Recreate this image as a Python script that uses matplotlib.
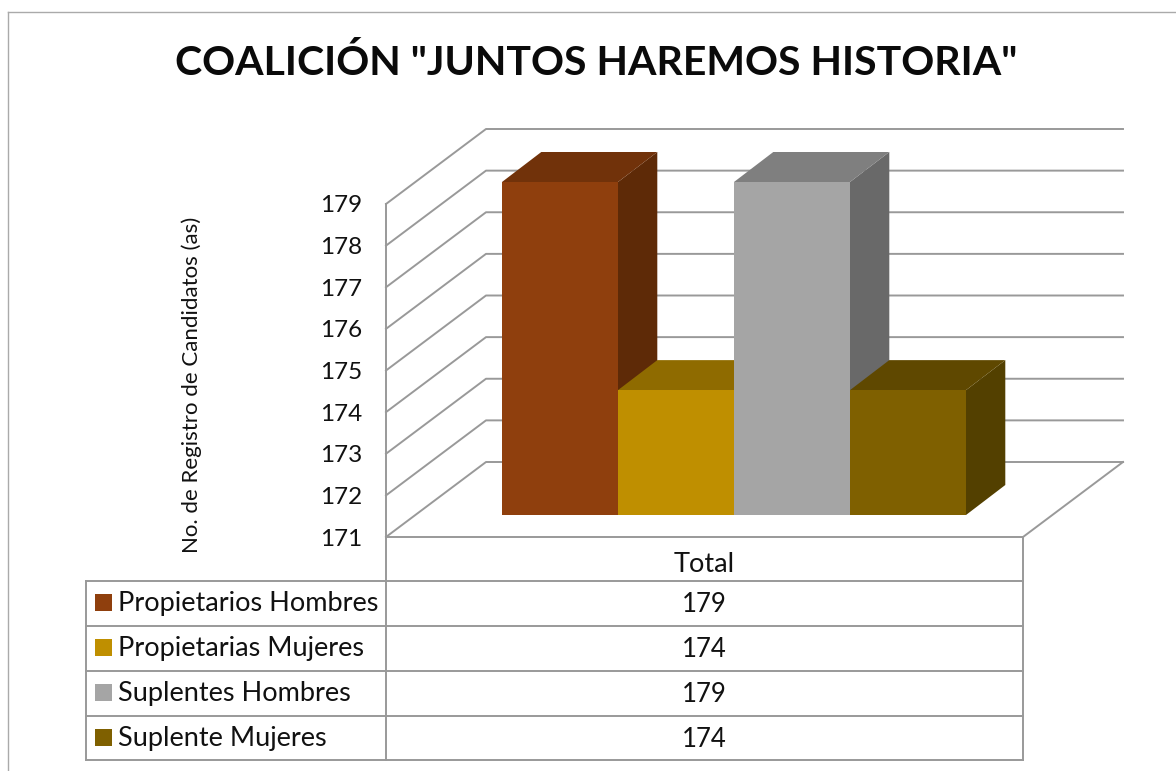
import matplotlib
matplotlib.use("Agg")
import matplotlib.pyplot as plt
from matplotlib.patches import Polygon, Rectangle
from matplotlib.transforms import IdentityTransform

plt.rcParams['font.family'] = ['Lato', 'DejaVu Sans']

title = 'COALICIÓN "JUNTOS HAREMOS HISTORIA"'
ylabel = 'No. de Registro de Candidatos (as)'
category = 'Total'
series = ['Propietarios Hombres', 'Propietarias Mujeres', 'Suplentes Hombres', 'Suplente Mujeres']
values = [179, 174, 179, 174]
yticks = [171, 172, 173, 174, 175, 176, 177, 178, 179]

front = ['#8F3F0D', '#BF8F00', '#A5A5A5', '#7F6000']
top = ['#71320A', '#8F6B00', '#7F7F7F', '#5F4800']
side = ['#5E2A07', '#705500', '#696969', '#534000']
GRID = '#999999'
TXT = '#111111'

W, H = 1176, 771
fig = plt.figure(figsize=(W / 100, H / 100), dpi=100, facecolor='white')

# overlay in pixel space for frame and data table
ov = fig.add_axes([0, 0, 1, 1], zorder=0)
ov.set_xlim(0, W); ov.set_ylim(H, 0); ov.axis('off')

# plot axes: the front plane of the 3D box
L, R, T, B = 386, 1023, 204, 537
ax = fig.add_axes([L / W, 1 - B / H, (R - L) / W, (B - T) / H], zorder=1)
ax.patch.set_alpha(0)
ax.set_xlim(0, 1)
ax.set_ylim(yticks[0], yticks[-1])
for s in ax.spines.values():
    s.set_visible(False)
ax.set_xticks([])
ax.set_yticks(yticks)
ax.tick_params(axis='y', length=0, pad=17)
ax.set_yticklabels([str(t) for t in yticks], fontsize=17.5, color=TXT)

BACK = (100, 75)          # floor depth in pixels
NEAR = (29.5, 22)         # bar front offset from the front plane
BAR_DEPTH = (39.3, 30)    # bar depth
BAR_W = 116 / (R - L)
identity = IdentityTransform()


def pt(x, v, d=(0, 0)):
    p = ax.transData.transform((x, v))
    return (p[0] + d[0], p[1] + d[1])


def add(d, *a):
    r = d
    for b in a:
        r = (r[0] + b[0], r[1] + b[1])
    return r


line_kw = dict(color=GRID, lw=1.4, solid_capstyle='projecting', clip_on=False,
               transform=identity, zorder=1)
# wall gridlines and floor
for v in yticks:
    p0, p1 = pt(0, v), pt(0, v, BACK)
    p2 = pt(1, v, BACK)
    ax.plot([p0[0], p1[0], p2[0]], [p0[1], p1[1], p2[1]], **line_kw)
a, b = pt(1, yticks[0]), pt(1, yticks[0], BACK)
ax.plot([a[0], b[0]], [a[1], b[1]], **line_kw)
a, b = pt(0, yticks[0]), pt(1, yticks[0])
ax.plot([a[0], b[0]], [a[1], b[1]], **line_kw)
a, b = pt(0, yticks[0]), pt(0, yticks[-1])
ax.plot([a[0], b[0]], [a[1], b[1]], **line_kw)

# bars, painted left to right
n = len(values)
for i, v in enumerate(values):
    x0 = 0.5 + (i - n / 2) * BAR_W
    x1 = x0 + BAR_W
    nd = NEAR
    fd = add(NEAR, BAR_DEPTH)
    side_poly = [pt(x1, yticks[0], nd), pt(x1, yticks[0], fd), pt(x1, v, fd), pt(x1, v, nd)]
    top_poly = [pt(x0, v, nd), pt(x0, v, fd), pt(x1, v, fd), pt(x1, v, nd)]
    front_poly = [pt(x0, yticks[0], nd), pt(x1, yticks[0], nd), pt(x1, v, nd), pt(x0, v, nd)]
    z = 3 + i
    ax.add_patch(Polygon(side_poly, closed=True, fc=side[i], ec='none', transform=identity, clip_on=False, zorder=z))
    ax.add_patch(Polygon(top_poly, closed=True, fc=top[i], ec='none', transform=identity, clip_on=False, zorder=z))
    ax.add_patch(Polygon(front_poly, closed=True, fc=front[i], ec='none', transform=identity, clip_on=False, zorder=z))

# outer frame
ov.plot([7.5, 7.5], [12, 771], color='#AAAAAA', lw=1.0)
ov.plot([7.5, 1176], [12, 12], color='#AAAAAA', lw=1.0)

# data table
TL, TM, TR = 85.5, 386, 1023
rows = [581, 625.7, 670.5, 715.5, 760]
tb = dict(color=GRID, lw=1.4, solid_capstyle='projecting')
ov.plot([TM, TM], [B, rows[-1]], color=GRID, lw=1.4)
ov.plot([TR, TR], [B, rows[-1]], color=GRID, lw=1.4)
ov.plot([TL, TL], [rows[0], rows[-1]], **tb)
for k, y in enumerate(rows):
    ov.plot([TL, TR], [y, y], **tb)

ov.text((TM + TR) / 2, 565, category, ha='center', va='center', fontsize=19.5, color=TXT)
for i, (name, v) in enumerate(zip(series, values)):
    yc = (rows[i] + rows[i + 1]) / 2
    ov.add_patch(Rectangle((95, yc - 9), 17, 17, fc=front[i], ec='none'))
    ov.text(118, yc + 0.5, name, ha='left', va='center', fontsize=19.5, color=TXT)
    ov.text((TM + TR) / 2, yc + 1.5, str(v), ha='center', va='center', fontsize=18.5, color=TXT)

ov.text(596, 63, title, ha='center', va='center', fontsize=29.5, fontweight='bold', color='#0A0A0A')
ov.text(192, 385, ylabel, ha='center', va='center', rotation=90, fontsize=16, color=TXT)

fig.savefig('out.png', dpi=100)
